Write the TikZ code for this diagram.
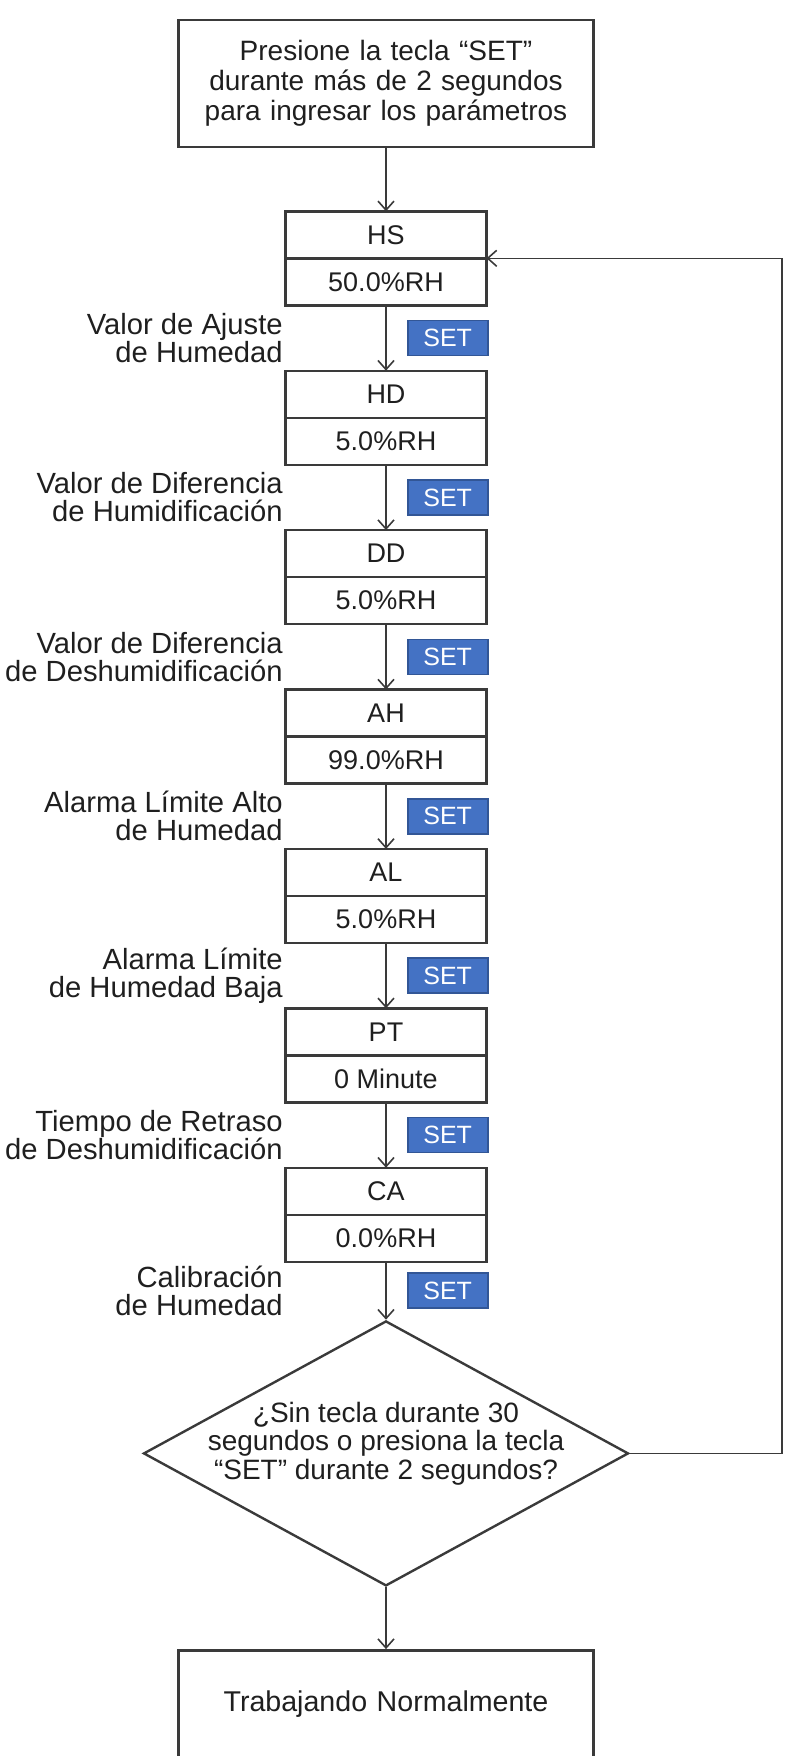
\documentclass[tikz,border=0pt]{standalone}
\usepackage{fontspec}
\setmainfont{Liberation Sans}
\usetikzlibrary{positioning, calc, shapes.geometric, arrows.meta}
\definecolor{setblue}{RGB}{68,114,196}
\definecolor{setedge}{RGB}{50,86,150}
\definecolor{linegray}{RGB}{58,58,58}

\begin{document}
\begin{tikzpicture}[node distance=32.7pt, auto, thick, text=black!88, >={Straight Barb[length=4.5pt,width=8pt]}]
    % Define block styles
    \tikzstyle{block} = [rectangle, draw=linegray, line width=1.3pt, text width=195pt, text centered, minimum width=207.5pt, minimum height=63.5pt, font=\fontsize{14}{15}\selectfont]
    \tikzstyle{keybox} = [rectangle, draw=linegray, line width=1.2pt, minimum width=100.5pt, minimum height=23.5pt, outer sep=0pt, font=\fontsize{13.5}{14}\selectfont]
    \tikzstyle{hint} = [align=right, inner sep=0pt, xshift=-1pt, font=\fontsize{14.6}{14}\selectfont]
    \tikzstyle{setkey} = [rectangle, draw=setedge, fill=setblue, text=white, minimum width=40pt, minimum height=17.5pt, inner sep=0pt, xshift=1pt, font=\fontsize{12.5}{12.5}\selectfont]
    \tikzstyle{decision} = [diamond, draw=linegray, line width=1.2pt, minimum width=242.5pt, minimum height=132.5pt, inner sep=0pt]
    \tikzstyle{flow} = [draw=linegray, line width=0.8pt, ->]

    \useasboundingbox (-193pt,41.75pt) rectangle (199pt,-836.25pt);

    % Place nodes
    \node [block] (start) {Presione la tecla “SET”\\durante más de 2 segundos\\para ingresar los parámetros};
    \node [keybox, below=31.5pt of start] (hs) {HS};
    \node [keybox, below=0pt of hs] (hsv) {50.0\%RH};
    \node [keybox, below=of hsv] (hd) {HD};
    \node [keybox, below=0pt of hd] (hdv) {5.0\%RH};
    \node [keybox, below=of hdv] (dd) {DD};
    \node [keybox, below=0pt of dd] (ddv) {5.0\%RH};
    \node [keybox, below=of ddv] (ah) {AH};
    \node [keybox, below=0pt of ah] (ahv) {99.0\%RH};
    \node [keybox, below=of ahv] (al) {AL};
    \node [keybox, below=0pt of al] (alv) {5.0\%RH};
    \node [keybox, below=of alv] (pt) {PT};
    \node [keybox, below=0pt of pt] (ptv) {0 Minute};
    \node [keybox, below=of ptv] (ca) {CA};
    \node [keybox, below=0pt of ca] (cav) {0.0\%RH};
    \node [decision, below=29pt of cav, label={[align=center, yshift=5pt, font=\fontsize{14}{14.25}\selectfont]center:¿Sin tecla durante 30\\segundos o presiona la tecla\\“SET” durante 2 segundos?}] (check) {};
    \node [block, below=31pt of check, minimum height=54pt, font=\fontsize{14.3}{15}\selectfont] (run) {Trabajando Normalmente};

    % Draw connections as arrows
    \draw [flow] (start) -- (hs);
    \draw [flow] (hsv) -- (hd);
    \draw [flow] (hdv) -- (dd);
    \draw [flow] (ddv) -- (ah);
    \draw [flow] (ahv) -- (al);
    \draw [flow] (alv) -- (pt);
    \draw [flow] (ptv) -- (ca);
    \draw [flow] (cav) -- (check);
    \draw [flow] (check) -- (run);
    \draw [flow] (check.east) -- ++(76pt,0) |- (hs.south east);

    % Add text beside the arrows
    \node [hint, anchor=east] at ($(hsv.south west)!0.5!(hd.north west)$) {Valor de Ajuste\\de Humedad};
    \node [hint, anchor=east] at ($(hdv.south west)!0.5!(dd.north west)$) {Valor de Diferencia\\de Humidificación};
    \node [hint, anchor=east] at ($(ddv.south west)!0.5!(ah.north west)$) {Valor de Diferencia\\de Deshumidificación};
    \node [hint, anchor=east] at ($(ahv.south west)!0.5!(al.north west)$) {Alarma Límite Alto\\de Humedad};
    \node [hint, anchor=east] at ($(alv.south west)!0.5!(pt.north west)$) {Alarma Límite\\de Humedad Baja};
    \node [hint, anchor=east] at ($(ptv.south west)!0.5!(ca.north west)$) {Tiempo de Retraso\\de Deshumidificación};
    \node [hint, anchor=east] at ($(cav.south west)!0.5!(cav.south west |- check.north)$) {Calibración\\de Humedad};

    % Add the SET keys
    \node [setkey, anchor=east] at ($(hsv.south east)!0.5!(hd.north east)$) {SET};
    \node [setkey, anchor=east] at ($(hdv.south east)!0.5!(dd.north east)$) {SET};
    \node [setkey, anchor=east] at ($(ddv.south east)!0.5!(ah.north east)$) {SET};
    \node [setkey, anchor=east] at ($(ahv.south east)!0.5!(al.north east)$) {SET};
    \node [setkey, anchor=east] at ($(alv.south east)!0.5!(pt.north east)$) {SET};
    \node [setkey, anchor=east] at ($(ptv.south east)!0.5!(ca.north east)$) {SET};
    \node [setkey, anchor=east] at ($(cav.south east)!0.5!(cav.south east |- check.north)$) {SET};
\end{tikzpicture}
\end{document}
